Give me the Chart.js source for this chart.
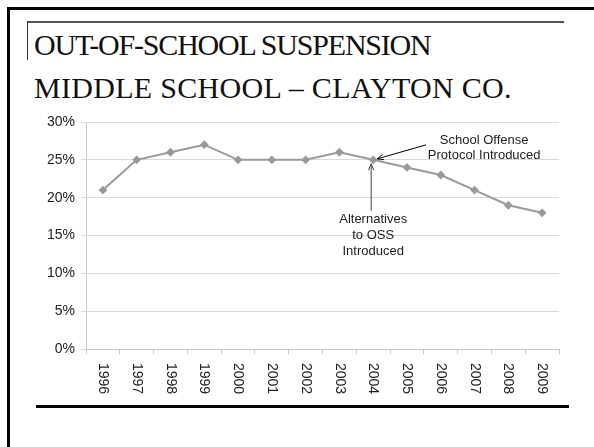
<!DOCTYPE html>
<html>
<head>
<meta charset="utf-8">
<script src="https://cdn.jsdelivr.net/npm/chart.js@4"></script>
<style>
  html, body { margin: 0; padding: 0; background: #fff; }
  #slide { position: relative; width: 594px; height: 447px; overflow: hidden; }
  .ln { position: absolute; }
  #title {
    position: absolute; left: 34px; top: 23px;
    font-family: "Liberation Serif", serif; font-size: 30px; line-height: 43px;
    color: #111; white-space: nowrap;
  }
  #title .l1 { letter-spacing: -1.2px; }
  #title .l2 { letter-spacing: 0.3px; }
  #chartBox { position: absolute; left: 0; top: 0; width: 594px; height: 447px; }
</style>
</head>
<body>
<div id="slide">
  <div class="ln" style="left:7px;top:7px;width:600px;height:3px;background:#000"></div>
  <div class="ln" style="left:7px;top:7px;width:3px;height:450px;background:#000"></div>
  <div class="ln" style="left:28px;top:21px;width:536px;height:2px;background:#555"></div>
  <div class="ln" style="left:27px;top:21px;width:1px;height:39px;background:#333"></div>
  <div class="ln" style="left:36px;top:405px;width:533px;height:3px;background:#000"></div>
  <div id="title"><span class="l1">OUT-OF-SCHOOL SUSPENSION</span><br><span class="l2">MIDDLE SCHOOL – CLAYTON CO.</span></div>
  <div id="chartBox"><canvas id="chart" width="594" height="447"></canvas></div>
</div>
<script>
const years = ["1996", "1997", "1998", "1999", "2000", "2001", "2002",
  "2003", "2004", "2005", "2006", "2007", "2008", "2009"];
const ossRate = [21, 25, 26, 27, 25, 25, 25, 26, 25, 24, 23, 21, 19, 18];
const yTicksMax = 30;
const yTickStep = 5;
const offenseNote = ["School Offense", "Protocol Introduced"];
const altNote = ["Alternatives", "to OSS", "Introduced"];
const noteYear = "2004";

// open "V" arrow from (x1,y1) to (x2,y2)
const drawArrow = (ctx, x1, y1, x2, y2, color) => {
  const ang = Math.atan2(y2 - y1, x2 - x1);
  const head = 7;
  ctx.save();
  ctx.strokeStyle = color;
  ctx.lineWidth = 1;
  ctx.beginPath();
  ctx.moveTo(x1, y1);
  ctx.lineTo(x2, y2);
  ctx.moveTo(x2 - head * Math.cos(ang - 0.4), y2 - head * Math.sin(ang - 0.4));
  ctx.lineTo(x2, y2);
  ctx.lineTo(x2 - head * Math.cos(ang + 0.4), y2 - head * Math.sin(ang + 0.4));
  ctx.stroke();
  ctx.restore();
};

const slidePlugin = {
  id: "slidePlugin",
  afterDraw(chart) {
    const ctx = chart.ctx;
    const xs = chart.scales.x;
    const ys = chart.scales.y;
    ctx.save();
    ctx.fillStyle = "#222";
    ctx.font = "14px 'Liberation Sans', Arial, sans-serif";
    // rotated year labels, reading top to bottom
    years.forEach((lab, i) => {
      const x = xs.getPixelForTick(i);
      ctx.save();
      ctx.translate(x, ys.bottom + 14);
      ctx.rotate(Math.PI / 2);
      ctx.textAlign = "left";
      ctx.textBaseline = "middle";
      ctx.fillText(lab, 0, 0);
      ctx.restore();
    });
    // annotations at 2004
    const idx = years.indexOf(noteYear);
    const px = xs.getPixelForValue(idx);
    const py = ys.getPixelForValue(ossRate[idx]);
    ctx.font = "13px 'Liberation Sans', Arial, sans-serif";
    ctx.textAlign = "center";
    ctx.textBaseline = "middle";
    ctx.fillStyle = "#222";
    offenseNote.forEach((t, k) => ctx.fillText(t, px + 111, py - 19 + k * 15));
    altNote.forEach((t, k) => ctx.fillText(t, px, py + 60 + k * 16));
    drawArrow(ctx, px + 53, py - 15, px + 4, py - 1, "#000");
    drawArrow(ctx, px - 2, py + 51, px - 2, py + 4, "#444");
    ctx.restore();
  },
};

new Chart(document.getElementById("chart"), {
  type: "line",
  data: {
    labels: years,
    datasets: [
      {
        data: ossRate,
        borderColor: "#9a9a9a",
        backgroundColor: "#9a9a9a",
        borderWidth: 2,
        pointStyle: "rectRot",
        pointRadius: 3,
        tension: 0,
      },
    ],
  },
  options: {
    responsive: false,
    animation: false,
    devicePixelRatio: 1,
    layout: { padding: { left: 0, right: 35, top: 122, bottom: 38 } },
    plugins: { legend: { display: false }, tooltip: { enabled: false } },
    scales: {
      x: {
        type: "category",
        offset: true,
        grid: {
          offset: true,
          drawOnChartArea: false,
          drawTicks: true,
          tickLength: 5,
          color: "#c8c8c8",
        },
        border: { color: "#c8c8c8" },
        ticks: { display: false },
        afterFit: (s) => { s.height = 60; },
      },
      y: {
        min: 0,
        max: yTicksMax,
        ticks: {
          stepSize: yTickStep,
          color: "#222",
          padding: 6,
          font: { family: "'Liberation Sans', Arial, sans-serif", size: 14 },
          callback: (v) => v + "%",
        },
        grid: { color: "#d9d9d9", tickLength: 5 },
        border: { color: "#c8c8c8" },
        afterFit: (s) => { s.width = 86; },
      },
    },
  },
  plugins: [slidePlugin],
});
</script>
</body>
</html>
